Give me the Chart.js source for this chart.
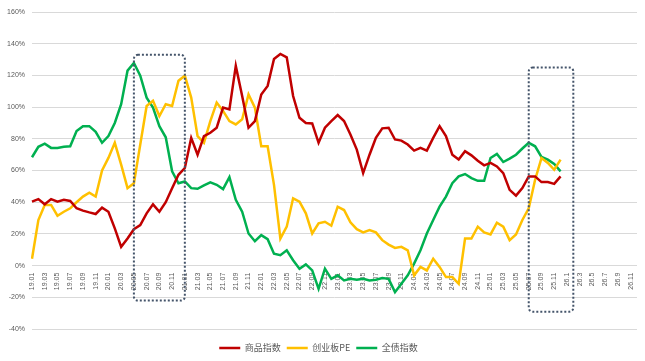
<!DOCTYPE html>
<html>
<head>
<meta charset="utf-8">
<script src="https://cdn.jsdelivr.net/npm/chart.js@4.4.1/dist/chart.umd.min.js"></script>
<style>
html,body{margin:0;padding:0;background:#fff;}
#wrap{position:relative;width:645px;height:361px;}
</style>
</head>
<body>
<div id="wrap"><canvas id="c"></canvas></div>
<script>
// Monthly categories 19.01 .. 26.12
const categories = [
 '19.01','19.02','19.03','19.04','19.05','19.06','19.07','19.08','19.09','19.10','19.11','19.12',
 '20.01','20.02','20.03','20.04','20.05','20.06','20.07','20.08','20.09','20.10','20.11','20.12',
 '21.01','21.02','21.03','21.04','21.05','21.06','21.07','21.08','21.09','21.10','21.11','21.12',
 '22.01','22.02','22.03','22.04','22.05','22.06','22.07','22.08','22.09','22.10','22.11','22.12',
 '23.01','23.02','23.03','23.04','23.05','23.06','23.07','23.08','23.09','23.10','23.11','23.12',
 '24.01','24.02','24.03','24.04','24.05','24.06','24.07','24.08','24.09','24.10','24.11','24.12',
 '25.01','25.02','25.03','25.04','25.05','25.06','25.07','25.08','25.09','25.10','25.11','25.12',
 '26.1','26.2','26.3','26.4','26.5','26.6','26.7','26.8','26.9','26.10','26.11','26.12'
];

// 商品指数 (%)
const commodity = [
 40.4,42,38.7,42,40.4,41.5,40.8,36.2,34.7,33.6,32.6,36.6,
 34,23.5,11.9,17.1,23,25.6,33,38.7,34,40,48.9,57.3,
 61.6,80.6,70,81.7,83.8,87,99.7,98.6,126,107,87,91.2,
 108,113.4,130.4,133.5,131.4,107,93.3,90,89.7,77.5,87,91.2,
 95,91.2,82.8,73.2,58.4,70,80.6,86.6,87,79.6,78.9,76.4,
 72.6,74.3,72.6,80.6,88,81.7,70,66.9,72.2,69.6,66.2,63.3,
 64.8,62.6,58.4,47.8,44.2,48.9,56.3,56.3,52.7,52.7,51.6,56.3
];

// 创业板PE (%)
const chinextPE = [
 4.4,28.8,38.3,38.3,31.5,34,36.2,40,43.6,46,43.6,60,
 68,77.5,63.7,48.9,52,76.4,100.7,104,94.4,101.8,100.7,116.6,
 119.8,106,81.7,77.5,91.2,102.9,97.6,91.2,89.1,92.3,108,99.7,
 75.3,75.3,51,17.1,24.6,42.5,40.4,33,20.3,26.7,27.7,25.2,
 37.2,35.1,27.3,23,21,22.4,21,16.1,13.3,11.2,11.9,9.7,
 -6.1,-0.8,-3,4.4,-0.8,-7.2,-7.2,-11.4,17.1,17.1,24.6,21,
 19.7,27.1,24.6,16.1,19.7,28.8,36.2,54.2,67.9,64.8,60.5,66.9
];

// 全债指数 (%)
const bondIndex = [
 68.4,75,77,74.3,74.3,75,75.3,84.9,88,88,84.4,77.5,
 81.7,90,101.8,123,127.8,119.8,106,99.7,88,81,59.5,52,
 53.1,48.9,48.5,50.6,52.5,51,48.3,55.9,41.5,34,20.3,15.4,
 19.3,16.7,7.6,6.6,9.7,3.4,-1.9,0.8,-3,-14.6,-1.9,-8.3,
 -6.1,-9.3,-8.3,-8.9,-8.3,-9.3,-8.9,-7.8,-8.3,-16.7,-11.4,-6.1,
 1.3,9.7,20.3,28.8,37.2,43.6,52,56.3,57.8,55.2,53.5,53.5,
 67.9,70.5,65.4,67.5,70,73.9,77.5,75.3,68.6,66.9,64.1,59.5
];

const seriesNames = ['商品指数','创业板PE','全债指数'];
const seriesColors = ['#C00000','#FFC000','#00B050'];

// Highlight boxes (category span and value span)
const highlightBoxes = [
 {from:'20.05', to:'21.01', top:133, bottom:-22},
 {from:'25.07', to:'26.2', top:125, bottom:-29}
];

const FONT = "'Liberation Sans', Arial, 'Noto Sans CJK SC', sans-serif";
const LEGEND_FONT = "'Noto Sans CJK SC', 'Liberation Sans', sans-serif";

const boxPlugin = {
  id: 'boxes',
  afterDatasetsDraw(chart) {
    const {ctx, scales:{x, y}} = chart;
    ctx.save();
    ctx.strokeStyle = '#44546A';
    ctx.lineWidth = 2;
    ctx.setLineDash([2, 2]);
    highlightBoxes.forEach(b => {
      const x0 = x.getPixelForValue(categories.indexOf(b.from));
      const x1 = x.getPixelForValue(categories.indexOf(b.to));
      const y0 = y.getPixelForValue(b.top);
      const y1 = y.getPixelForValue(b.bottom);
      ctx.beginPath();
      ctx.roundRect(x0, y0, x1 - x0, y1 - y0, 4);
      ctx.stroke();
    });
    ctx.restore();
  }
};

const mk = (i, data) => ({
  label: seriesNames[i], data, borderColor: seriesColors[i], backgroundColor: seriesColors[i],
  borderWidth: 2.5, pointRadius: 0, tension: 0, fill: false
});

new Chart(document.getElementById('c'), {
  type: 'line',
  data: {
    labels: categories,
    datasets: [mk(0, commodity), mk(1, chinextPE), mk(2, bondIndex)]
  },
  options: {
    responsive: true, maintainAspectRatio: false, animation: false,
    devicePixelRatio: 1,
    layout: {padding: {left: 0, right: 8, top: 12, bottom: -1.5}},
    plugins: {
      tooltip: {enabled: false},
      legend: {
        position: 'bottom',
        title: {display: true, text: '', font: {size: 2}, padding: {top: 6, bottom: 0}},
        labels: {
          usePointStyle: true, pointStyle: 'line', pointStyleWidth: 21,
          boxWidth: 21, boxHeight: 9, padding: 6,
          color: '#595959', font: {family: LEGEND_FONT, size: 9}
        }
      }
    },
    scales: {
      x: {
        position: {y: 0},
        grid: {display: false, drawTicks: false},
        border: {display: false},
        afterFit(s) { s.height = 0; s.paddingLeft = 0; s.paddingRight = 0; },
        ticks: {
          autoSkip: false, maxRotation: 90, minRotation: 90, padding: 7,
          color: '#595959', font: {family: FONT, size: 7},
          callback(v, i) { return i % 2 === 0 ? categories[i] : ''; }
        }
      },
      y: {
        min: -40, max: 160,
        afterFit(s) { s.width = 32; },
        grid: {color: '#D9D9D9', lineWidth: 1, drawTicks: false},
        border: {display: false},
        ticks: {
          stepSize: 20, padding: 7, color: '#595959', font: {family: FONT, size: 7},
          callback(v) { return v + '%'; }
        }
      }
    }
  },
  plugins: [boxPlugin]
});
</script>
</body>
</html>
